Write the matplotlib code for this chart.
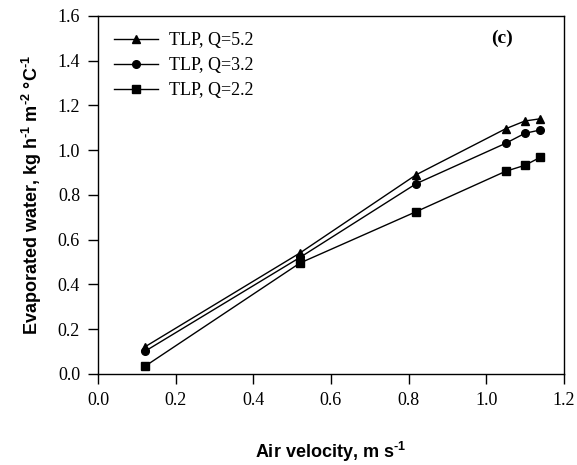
import matplotlib
matplotlib.use("Agg")
import matplotlib.pyplot as plt

plt.rcParams['mathtext.fontset'] = 'custom'
plt.rcParams['mathtext.rm'] = 'Liberation Sans:bold'
plt.rcParams['mathtext.bf'] = 'Liberation Sans:bold'
plt.rcParams['mathtext.default'] = 'rm'

x_vals = [0.12, 0.52, 0.82, 1.05, 1.10, 1.14]
q52 = [0.12, 0.54, 0.89, 1.095, 1.13, 1.14]
q32 = [0.10, 0.52, 0.85, 1.03, 1.075, 1.09]
q22 = [0.033, 0.495, 0.725, 0.905, 0.932, 0.968]
labels = ["TLP, Q=5.2", "TLP, Q=3.2", "TLP, Q=2.2"]
xticks = [0.0, 0.2, 0.4, 0.6, 0.8, 1.0, 1.2]
yticks = [0.0, 0.2, 0.4, 0.6, 0.8, 1.0, 1.2, 1.4, 1.6]

fig = plt.figure(figsize=(5.77, 4.65), dpi=100)
ax = fig.add_axes([0.170, 0.196, 0.807, 0.770])

for ys, mk, lab in zip([q52, q32, q22], ['^', 'o', 's'], labels):
    ax.plot(x_vals, ys, color='black', lw=1.0, marker=mk, markersize=5.5, label=lab)

ax.set_xlim(0, 1.2)
ax.set_ylim(0, 1.6)
ax.set_xticks(xticks)
ax.set_yticks(yticks)
ax.set_xticklabels([f"{v:.1f}" for v in xticks], family='Liberation Serif', fontsize=13)
ax.set_yticklabels([f"{v:.1f}" for v in yticks], family='Liberation Serif', fontsize=13)
ax.tick_params(direction='out', length=7, width=1, pad=6)
for s in ax.spines.values():
    s.set_linewidth(1)

ax.set_xlabel("Air velocity, m s$^{\u2010 1}$", family='Liberation Sans', fontweight='bold', fontsize=13, labelpad=22)
ax.set_ylabel("Evaporated water, kg h$^{\u2010 1}$ m$^{\u2010 2}$ °C$^{\u2010 1}$", family='Liberation Sans', fontweight='bold', fontsize=13, labelpad=10)

ax.text(1.04, 1.5, "(c)", family='Liberation Serif', fontweight='bold', fontsize=14, ha='center', va='center')

leg = ax.legend(loc='upper left', frameon=False, prop={'family': 'Liberation Serif', 'size': 13},
                handlelength=2.4, borderaxespad=0.5, labelspacing=0.45, handletextpad=0.65)

fig.savefig("out.png", dpi=100)
